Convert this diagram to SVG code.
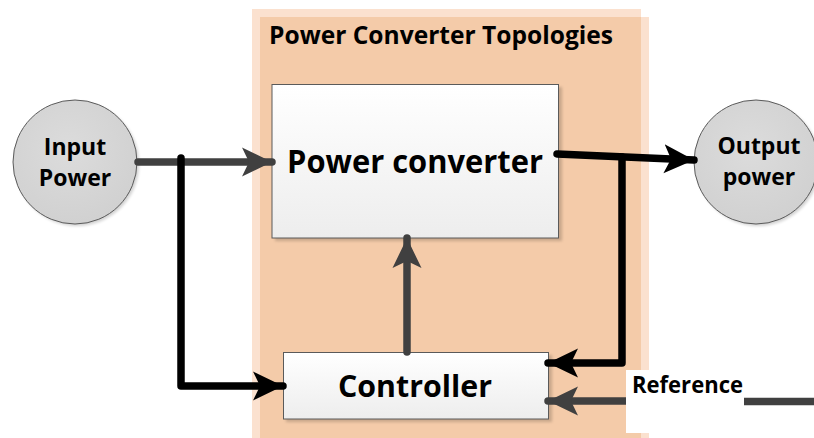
<svg xmlns="http://www.w3.org/2000/svg" width="814" height="438" viewBox="0 0 814 438">
  <defs>
    <style>
      .lbl { font-family: "Open Sans", "Liberation Sans", sans-serif; font-weight: bold; fill: #000; }
      .band { fill: #FBE1CF; }
      .core { fill: #F4CBA9; }
      .box { stroke: #5a5a5a; stroke-width: 1; fill: url(#boxFill); }
      .shadow { fill: #000; opacity: 0.18; filter: url(#soft); }
      .disc { stroke: #5a5a5a; stroke-width: 1; fill: url(#discFill); }
      .wire { fill: none; stroke-linecap: round; stroke-linejoin: round; stroke-width: 7.5; }
      .black { stroke: #000; }
      .grey { stroke: #404040; }
    </style>
    <linearGradient id="boxFill" x1="0" y1="0" x2="0" y2="1">
      <stop offset="0" stop-color="#FFFFFF"/>
      <stop offset="1" stop-color="#EDEDED"/>
    </linearGradient>
    <radialGradient id="discFill" cx="0.45" cy="0.4" r="0.7">
      <stop offset="0" stop-color="#DCDCDC"/>
      <stop offset="1" stop-color="#CFCFCF"/>
    </radialGradient>
    <filter id="soft" x="-10%" y="-10%" width="120%" height="120%">
      <feGaussianBlur stdDeviation="1.5"/>
    </filter>
    <marker id="headBlack" markerUnits="userSpaceOnUse" markerWidth="32" markerHeight="32" viewBox="0 0 32 32" refX="30" refY="16" orient="auto">
      <path d="M0,1.5 L30,16 L0,30.5 L7,16 Z" fill="#000"/>
    </marker>
    <marker id="headGrey" markerUnits="userSpaceOnUse" markerWidth="32" markerHeight="32" viewBox="0 0 32 32" refX="30" refY="16" orient="auto">
      <path d="M0,1.5 L30,16 L0,30.5 L7,16 Z" fill="#404040"/>
    </marker>
  </defs>

  <rect width="814" height="438" fill="#FFFFFF"/>

  <!-- topology panel: two offset tinted sheets, overlap darker -->
  <g id="panel">
    <rect class="band" x="252" y="9" width="389" height="429"/>
    <rect class="band" x="260" y="17" width="389" height="421"/>
    <rect class="core" x="260" y="17" width="381" height="421"/>
    <text class="lbl" x="269" y="44" font-size="25" textLength="344" lengthAdjust="spacingAndGlyphs">Power Converter Topologies</text>
  </g>

  <g id="input-power">
    <circle class="shadow" cx="77" cy="164" r="62"/>
    <circle class="disc" cx="75" cy="162" r="62"/>
    <text class="lbl" x="75" y="155" font-size="23" text-anchor="middle">Input</text>
    <text class="lbl" x="75" y="186" font-size="23" text-anchor="middle">Power</text>
  </g>

  <g id="output-power">
    <circle class="shadow" cx="758" cy="164" r="62"/>
    <circle class="disc" cx="756" cy="162" r="62"/>
    <text class="lbl" x="759" y="154" font-size="23" text-anchor="middle">Output</text>
    <text class="lbl" x="759" y="185" font-size="23" text-anchor="middle">power</text>
  </g>

  <g id="power-converter">
    <rect class="shadow" x="275" y="87" width="287" height="154"/>
    <rect class="box" x="272" y="84.5" width="286.5" height="153.5"/>
    <text class="lbl" x="287" y="173" font-size="33" textLength="256" lengthAdjust="spacingAndGlyphs">Power converter</text>
  </g>

  <g id="controller">
    <rect class="shadow" x="286" y="355" width="266" height="67"/>
    <rect class="box" x="283.5" y="352.5" width="265" height="66.5"/>
    <text class="lbl" x="338" y="397" font-size="30" textLength="154" lengthAdjust="spacingAndGlyphs">Controller</text>
  </g>

  <g id="connectors">
    <!-- source into converter -->
    <line class="wire grey" x1="138" y1="162" x2="272" y2="162" marker-end="url(#headGrey)"/>
    <!-- feed-forward tap to controller -->
    <polyline class="wire black" points="181,158 181,386 283,386" marker-end="url(#headBlack)"/>
    <!-- converter output to load -->
    <polyline class="wire black" points="557,154 694,160" marker-end="url(#headBlack)"/>
    <!-- output feedback to controller -->
    <polyline class="wire black" points="622,157 622,363 548,363" marker-end="url(#headBlack)"/>
    <!-- control signal to converter -->
    <line class="wire grey" x1="407" y1="352" x2="407" y2="238" marker-end="url(#headGrey)"/>
    <!-- reference input -->
    <line class="wire grey" x1="814" y1="401" x2="548" y2="401" stroke-linecap="butt" marker-end="url(#headGrey)"/>
  </g>

  <g id="reference">
    <rect x="626" y="370" width="188" height="63" fill="#FFFFFF"/>
    <line class="grey" x1="744" y1="401.5" x2="814" y2="401.5" stroke-width="7.5"/>
    <text class="lbl" x="632" y="393" font-size="23" textLength="111" lengthAdjust="spacingAndGlyphs">Reference</text>
  </g>
</svg>
